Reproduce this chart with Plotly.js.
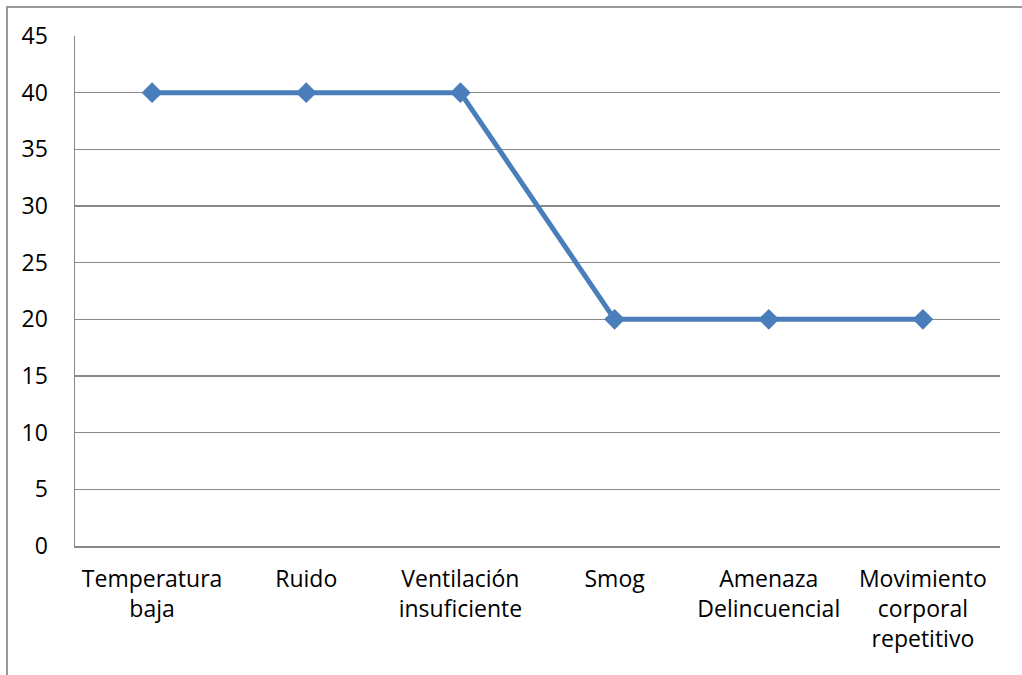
<!DOCTYPE html>
<html><head><meta charset="utf-8">
<script src="https://cdn.plot.ly/plotly-3.0.1.min.js"></script>
<style>
html,body{margin:0;padding:0;background:#fff;overflow:hidden;}
#frame{position:absolute;left:6px;top:6px;width:1040px;height:700px;border:2px solid #9a9a9a;box-sizing:border-box;}
#chart{position:absolute;left:0;top:0;width:1022px;height:675px;}
</style></head>
<body>
<div id="chart"></div>
<div id="frame"></div>
<script>
const categories = ["Temperatura<br>baja","Ruido","Ventilación<br>insuficiente","Smog","Amenaza<br>Delincuencial","Movimiento<br>corporal<br>repetitivo"];
const values = [40, 40, 40, 20, 20, 20];
const yTicks = [0,5,10,15,20,25,30,35,40,45];

const trace = {
  x: categories, y: values, type: 'scatter', mode: 'lines+markers',
  line: {color: '#4a7ebb', width: 5},
  marker: {symbol: 'diamond', size: 16, color: '#4a7ebb'},
  hoverinfo: 'skip'
};
const layout = {
  width: 1022, height: 675,
  margin: {l: 75, r: 22, t: 36, b: 129},
  paper_bgcolor: 'rgba(0,0,0,0)', plot_bgcolor: '#fff',
  font: {family: '"Open Sans", sans-serif', size: 23, color: '#000'},
  showlegend: false,
  xaxis: {
    type: 'category', range: [-0.5, 5.5], showgrid: false, zeroline: false,
    showline: true, linecolor: '#888', linewidth: 1.5,
    ticks: '', ticklabelstandoff: 12,
    tickfont: {size: 23}
  },
  yaxis: {
    range: [0, 45], tickvals: yTicks, ticktext: yTicks.map(String),
    showgrid: true, gridcolor: '#888', gridwidth: 1.3,
    zeroline: false, showline: true, linecolor: '#888', linewidth: 1.5,
    ticks: '', ticklabelstandoff: 21, tickfont: {size: 23}
  }
};
Plotly.newPlot('chart', [trace], layout, {displayModeBar: false, staticPlot: true});
</script>
</body></html>
